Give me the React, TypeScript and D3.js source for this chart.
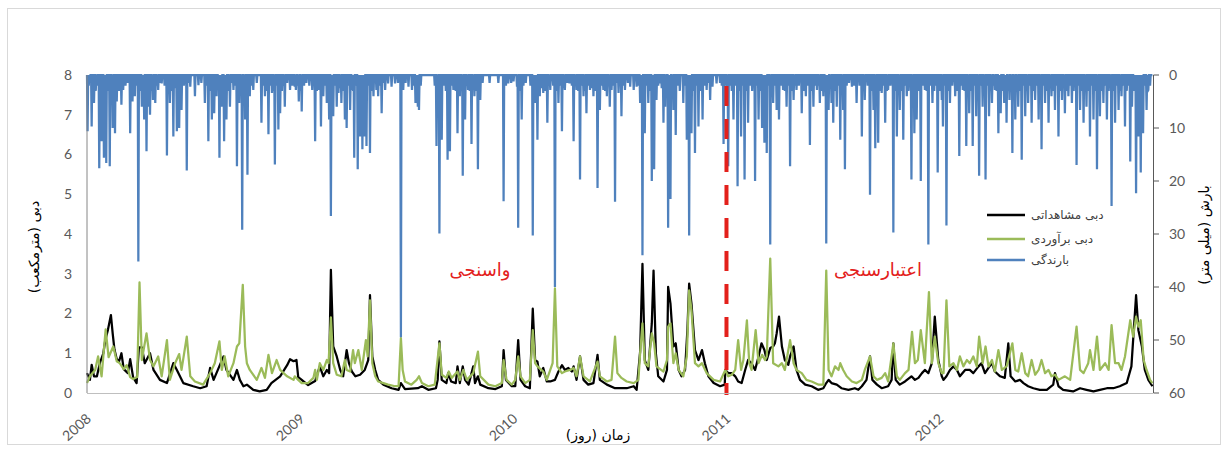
import React from 'react';
import * as d3 from 'd3';

// day offsets from 2008-01-01
const rainfall: [number, number][] = [
  [1, 10.6], [8, 9.7], [12, 5.3], [21, 17.6], [25, 12.5], [29, 15.6], [33, 16.6], [39, 17.2], [44, 10], [48, 11], [51, 5], [59, 5.6], [62, 2.8], [74, 11], [78, 5], [82, 4], [88, 35.2], [94, 6], [98, 8.4], [102, 14.4], [105, 6], [108, 7.5], [113, 4.7], [117, 5.3], [122, 2.8], [128, 1.6], [137, 15.2], [142, 5.3], [148, 11.6], [154, 10.6], [158, 10], [162, 6.6], [171, 18], [177, 2.2], [185, 4], [191, 1.9], [202, 5.3], [208, 12.5], [214, 8.4], [218, 7.2], [222, 4], [227, 15.6], [231, 6], [235, 12.5], [239, 8.4], [245, 6], [251, 2.8], [257, 17.2], [261, 5.3], [266, 29.2], [271, 8.4], [275, 18.8], [279, 4], [285, 2.8], [299, 9], [305, 4], [311, 11.2], [317, 3.4], [322, 16.9], [328, 10.3], [331, 7.2], [339, 6], [348, 2.8], [356, 2.2],
  [358, 2.8], [363, 5], [368, 6.9], [386, 2.8], [391, 12.5], [398, 2.8], [401, 9.7], [405, 4], [411, 5.3], [415, 8.4], [418, 26.6], [422, 7.8], [428, 6], [431, 3.4], [436, 5.3], [442, 8.4], [445, 10], [451, 6.6], [454, 2.8], [458, 15.6], [464, 17.8], [468, 11.6], [472, 14], [476, 11.6], [479, 13.4], [485, 14.7], [491, 4], [496, 2.8], [499, 4], [505, 7.2], [511, 2.8], [516, 1.6], [522, 2.2], [528, 1.6], [538, 49.5], [542, 2.8], [551, 2.2], [557, 2.8], [563, 5.3], [567, 6], [569, 6.6], [599, 13.4], [604, 29.9], [608, 12.2], [618, 16], [622, 14.4], [628, 2.8], [635, 11], [639, 4], [644, 19], [648, 8.4], [653, 2.8], [659, 13], [664, 4], [670, 17.8], [674, 4.7], [714, 23.8], [722, 1.6], [731, 1.2],
  [737, 2.2], [739, 28.8], [745, 8.4], [764, 30.3], [768, 5.3], [772, 12.2], [776, 4], [782, 3.4], [789, 9], [794, 2.8], [802, 40], [808, 5.3], [814, 10.6], [819, 2.8], [827, 1.6], [834, 12.5], [839, 2.8], [845, 19.7], [851, 4], [856, 7.2], [862, 2.8], [868, 4], [875, 21.3], [879, 6.6], [885, 2.8], [891, 4], [896, 6], [899, 2.8], [905, 23.9], [911, 3.4], [916, 7.8], [922, 2.8], [931, 2.2], [937, 2.8], [942, 2.2], [948, 5.3], [952, 34], [956, 11], [962, 5.3], [968, 20], [972, 17.8], [976, 4.7], [982, 1.6], [988, 9], [991, 6], [996, 28.8], [1000, 23.4], [1005, 6.6], [1009, 11.3], [1022, 5.3], [1028, 12.2], [1032, 30.3], [1036, 11], [1042, 14.7], [1048, 9.7], [1055, 8.4], [1062, 2.8], [1068, 4.7], [1072, 2.2], [1079, 1.6], [1091, 13],
  [1099, 17.2], [1108, 8.4], [1115, 21], [1121, 11.6], [1127, 19.7], [1133, 9], [1145, 20], [1151, 8.4], [1157, 10], [1161, 12.8], [1165, 14.7], [1171, 32], [1176, 5.3], [1182, 6.6], [1186, 8.4], [1193, 2.8], [1199, 6], [1205, 17.2], [1211, 4.7], [1216, 2.8], [1225, 7.2], [1232, 4], [1239, 13.2], [1245, 6], [1251, 2.8], [1256, 5.3], [1262, 4], [1267, 31.8], [1271, 6.6], [1276, 5.3], [1279, 9], [1285, 6], [1291, 12.2], [1296, 6.6], [1299, 17.8], [1311, 2.2], [1319, 5.3], [1328, 11.6], [1333, 4.7], [1342, 22.6], [1348, 6.6], [1351, 13.8], [1356, 12.8], [1362, 3.4], [1368, 9], [1373, 2.8], [1382, 29.7], [1388, 11.6], [1393, 6.6], [1399, 12.2], [1405, 4], [1413, 19.7], [1418, 11], [1422, 8.4], [1429, 20], [1436, 2.8], [1442, 32], [1449, 5.3], [1458, 18.4], [1465, 4.7],
  [1467, 9.7], [1473, 28.4], [1479, 5.3], [1488, 4], [1495, 15.3], [1501, 2.8], [1507, 13.4], [1512, 7.2], [1518, 13.4], [1524, 7.8], [1529, 19], [1535, 6], [1540, 19.7], [1546, 7.8], [1551, 5.3], [1556, 2.8], [1562, 11], [1566, 7.2], [1572, 5.3], [1576, 9], [1581, 4.7], [1586, 14.7], [1591, 8.4], [1596, 6], [1602, 16], [1608, 7.8], [1613, 5.3], [1619, 9], [1625, 4.7], [1631, 8.4], [1636, 14], [1642, 5.3], [1648, 9], [1653, 4], [1659, 6.6], [1665, 11.6], [1671, 4.7], [1676, 7.2], [1682, 4], [1688, 5.3], [1696, 17], [1702, 6.6], [1708, 9], [1713, 6], [1719, 11.6], [1725, 8.4], [1731, 17.8], [1736, 7.8], [1742, 5.3], [1748, 8.4], [1756, 24.7], [1762, 9], [1768, 6.6], [1773, 4], [1779, 9.7], [1788, 16.3], [1791, 6], [1798, 22.3], [1802, 11.6], [1806, 18.4], [1810, 11], [1816, 6.6], [1819, 2.8],
];

// the thin band of small daily totals along the top edge
const lightRain: [number, number][] = [
  [3, 2], [5, 1.5], [15, 3], [17, 2], [31, 4], [36, 3], [42, 2.5], [55, 3], [66, 2], [70, 1.5], [85, 2], [91, 3], [96, 2], [111, 3], [120, 2], [125, 1.5], [133, 2], [145, 3], [151, 2.5], [166, 2], [174, 1.5], [196, 1.5], [205, 2], [211, 3], [225, 2], [229, 3], [237, 2], [243, 3], [248, 1.5], [254, 2], [264, 3], [269, 2], [282, 2], [291, 1.5], [302, 2], [308, 3], [314, 2], [320, 3], [325, 2], [334, 3], [337, 2], [343, 1.5], [352, 2],
  [361, 2], [366, 3], [372, 2], [376, 1.5], [381, 2], [394, 3], [408, 2], [420, 3], [425, 2], [434, 2.5], [439, 3], [448, 2], [456, 3], [461, 2], [466, 3], [470, 2.5], [474, 3], [482, 2], [488, 3], [502, 2], [508, 1.5], [533, 1.5], [546, 1.5], [560, 2], [565, 3], [572, 2], [596, 2], [601, 3], [611, 2], [615, 3], [625, 2], [632, 3], [642, 2], [651, 2], [656, 3], [662, 2], [667, 3], [678, 1.5], [690, 1.5], [705, 1.5], [718, 2], [727, 1.5],
  [742, 3], [748, 2], [752, 1.5], [760, 2], [766, 3], [770, 2], [779, 2.5], [785, 3], [792, 2], [799, 2], [805, 3], [811, 2], [817, 2.5], [823, 1.5], [831, 2], [837, 2], [842, 3], [848, 2], [853, 3], [859, 2], [865, 2.5], [872, 3], [882, 2], [888, 3], [894, 2], [902, 2], [908, 1.5], [919, 2], [927, 1.5], [945, 2], [950, 3], [959, 2], [965, 3], [970, 2], [979, 2], [985, 2.5], [993, 3], [998, 2], [1003, 3], [1012, 2], [1016, 3], [1025, 2], [1030, 3], [1034, 2], [1039, 3], [1045, 2], [1051, 3], [1058, 2], [1065, 1.5], [1085, 1.5], [1088, 2], [1094, 2],
  [1097, 3], [1102, 2], [1105, 3], [1111, 2], [1118, 3], [1124, 2], [1130, 3], [1136, 2], [1140, 3], [1148, 2], [1154, 3], [1159, 2], [1163, 3], [1168, 2], [1173, 3], [1179, 2], [1189, 2], [1196, 3], [1202, 2], [1208, 3], [1213, 2], [1220, 2], [1228, 3], [1235, 2], [1242, 3], [1248, 2], [1254, 2], [1259, 3], [1265, 2], [1269, 3], [1274, 2], [1282, 3], [1288, 2], [1294, 3], [1302, 2], [1306, 1.5], [1315, 2], [1324, 2], [1331, 3], [1338, 2], [1345, 3], [1353, 2], [1359, 3], [1365, 2], [1371, 3], [1377, 2], [1385, 3], [1391, 2], [1396, 3], [1402, 2], [1408, 3], [1415, 2], [1425, 3], [1432, 2], [1439, 3], [1446, 2], [1452, 3], [1455, 2], [1461, 3],
  [1470, 2], [1476, 3], [1483, 2], [1491, 3], [1498, 2], [1504, 3], [1510, 2], [1515, 3], [1521, 2], [1527, 3], [1532, 2], [1538, 3], [1543, 2], [1549, 3], [1554, 2], [1559, 3], [1564, 2], [1569, 3], [1574, 2], [1579, 3], [1584, 2], [1589, 3], [1594, 2], [1599, 3], [1605, 2], [1611, 3], [1616, 2], [1622, 3], [1628, 2], [1634, 3], [1639, 2], [1645, 3], [1651, 2], [1656, 3], [1662, 2], [1668, 3], [1674, 2], [1679, 3], [1685, 2], [1691, 3], [1699, 2], [1705, 3], [1711, 2], [1716, 3], [1722, 2], [1728, 3], [1733, 2], [1739, 3], [1745, 2], [1751, 3], [1754, 2], [1759, 3], [1765, 2], [1771, 3], [1776, 2], [1782, 3], [1785, 2], [1794, 3], [1796, 2], [1800, 3], [1804, 2], [1808, 3], [1813, 2], [1818, 3], [1822, 2],
];

const observedFlow: [number, number][] = [
  [0, 0.5], [5, 0.33], [8, 0.71], [12, 0.42], [17, 0.42], [22, 0.75], [28, 1.0], [31, 1.3], [36, 1.6], [41, 1.96], [44, 1.5], [47, 1.1], [51, 0.85], [55, 0.8], [59, 1.0], [63, 0.6], [70, 0.5], [74, 0.85], [79, 0.4], [85, 0.25], [89, 1.15], [94, 1.15], [99, 0.75], [108, 1.0], [114, 0.58], [125, 0.33], [137, 0.25], [148, 0.75], [154, 0.58], [165, 0.25], [182, 0.17], [194, 0.12], [205, 0.17], [211, 0.63], [217, 0.33], [234, 0.92], [239, 0.58], [251, 0.33], [257, 0.58], [262, 0.33], [268, 0.17], [274, 0.21], [285, 0.08], [296, 0.04], [308, 0.08], [316, 0.25], [331, 0.42], [343, 0.7], [348, 0.85], [354, 0.8], [359, 0.83],
  [362, 0.4], [368, 0.33], [379, 0.2], [391, 0.3], [399, 0.67], [405, 0.42], [411, 0.58], [415, 0.5], [418, 3.1], [422, 1.17], [428, 0.92], [434, 0.58], [439, 0.42], [445, 1.08], [449, 0.75], [454, 0.54], [460, 0.42], [468, 0.46], [476, 0.58], [482, 0.83], [485, 2.46], [489, 0.92], [494, 0.58], [499, 0.33], [508, 0.21], [522, 0.12], [534, 0.08], [538, 0.25], [545, 0.1], [567, 0.12], [574, 0.17], [585, 0.08], [598, 0.12], [601, 0.33], [604, 1.3], [608, 0.33], [616, 0.25], [619, 0.5], [624, 0.29], [632, 0.25], [635, 0.67], [639, 0.25], [644, 0.67], [648, 0.33], [654, 0.21], [662, 0.67], [665, 0.25], [670, 0.42], [674, 0.21], [688, 0.12], [700, 0.1], [711, 0.17], [714, 1.08], [718, 0.33], [728, 0.17],
  [734, 0.17], [739, 1.33], [743, 0.33], [751, 0.17], [759, 0.12], [764, 2.12], [768, 0.83], [772, 0.79], [776, 0.42], [782, 0.63], [788, 0.29], [794, 0.29], [802, 0.33], [808, 0.54], [814, 0.7], [819, 0.58], [825, 0.63], [831, 0.54], [834, 0.67], [839, 0.33], [845, 0.92], [851, 0.33], [859, 0.21], [868, 0.25], [875, 0.96], [879, 0.33], [891, 0.21], [905, 0.12], [914, 0.12], [925, 0.12], [937, 0.17], [942, 0.08], [948, 1.04], [952, 3.25], [956, 0.83], [962, 0.58], [968, 1.75], [971, 3.08], [975, 1.0], [979, 0.42], [988, 0.29], [994, 0.58], [996, 2.67], [1000, 2.25], [1005, 1.17], [1009, 1.25], [1014, 0.58], [1019, 0.42], [1025, 0.58], [1029, 1.58], [1032, 2.75], [1036, 2.25], [1042, 1.08], [1048, 0.83], [1054, 1.08], [1059, 0.75], [1065, 0.42], [1074, 0.25], [1085, 0.17], [1093, 0.21],
  [1094, 0.58], [1099, 0.5], [1105, 0.5], [1111, 0.42], [1116, 0.29], [1122, 0.25], [1128, 0.58], [1133, 0.83], [1139, 0.75], [1145, 0.58], [1151, 0.92], [1156, 1.25], [1161, 1.08], [1165, 0.83], [1171, 1.13], [1176, 1.17], [1179, 1.25], [1182, 1.5], [1186, 1.92], [1191, 1.17], [1196, 0.83], [1202, 0.71], [1205, 0.92], [1211, 1.17], [1216, 0.58], [1222, 0.33], [1231, 0.21], [1242, 0.17], [1253, 0.08], [1262, 0.12], [1267, 0.25], [1271, 0.33], [1276, 0.25], [1285, 0.21], [1293, 0.12], [1305, 0.08], [1316, 0.12], [1322, 0.08], [1328, 0.17], [1336, 0.33], [1342, 0.92], [1346, 0.33], [1354, 0.21], [1362, 0.12], [1373, 0.17], [1379, 0.33], [1382, 1.25], [1386, 0.33], [1393, 0.21], [1402, 0.29], [1413, 0.42], [1419, 0.33], [1425, 0.38], [1431, 0.5], [1436, 0.58], [1442, 0.5], [1448, 0.75], [1453, 1.92], [1459, 0.83], [1465, 0.42],
  [1468, 0.33], [1473, 0.42], [1479, 0.58], [1485, 0.67], [1491, 0.58], [1496, 0.42], [1505, 0.58], [1513, 0.58], [1519, 0.5], [1528, 0.67], [1533, 0.75], [1539, 0.5], [1545, 0.63], [1551, 0.75], [1556, 0.54], [1565, 0.42], [1573, 0.38], [1579, 1.25], [1583, 0.42], [1591, 0.29], [1599, 0.33], [1605, 0.25], [1613, 0.17], [1622, 0.12], [1633, 0.08], [1645, 0.08], [1656, 0.21], [1659, 0.5], [1665, 0.17], [1673, 0.08], [1690, 0.04], [1702, 0.12], [1713, 0.08], [1725, 0.04], [1736, 0.08], [1748, 0.12], [1759, 0.12], [1770, 0.17], [1782, 0.25], [1790, 0.67], [1798, 2.46], [1802, 1.58], [1808, 1.17], [1813, 0.58], [1819, 0.33], [1826, 0.17],
];

const estimatedFlow: [number, number][] = [
  [0, 0.25], [5, 0.42], [14, 0.58], [19, 0.92], [25, 0.42], [32, 1.6], [37, 0.9], [45, 1.17], [51, 0.8], [56, 0.75], [63, 0.6], [68, 0.7], [74, 0.4], [79, 0.35], [86, 0.4], [90, 2.78], [94, 0.83], [102, 1.5], [108, 0.83], [114, 0.67], [122, 0.92], [128, 0.42], [137, 1.33], [142, 0.33], [151, 0.75], [158, 0.98], [162, 0.58], [171, 1.42], [177, 0.42], [185, 0.29], [199, 0.21], [211, 0.5], [219, 0.75], [227, 1.3], [231, 0.58], [236, 0.92], [242, 0.42], [251, 0.75], [257, 1.17], [261, 1.25], [267, 2.72], [271, 1.17], [274, 0.75], [279, 0.58], [291, 0.33], [299, 0.63], [305, 0.38], [311, 0.96], [317, 0.5], [325, 0.83], [331, 0.58], [343, 0.42], [354, 0.33],
  [356, 0.42], [362, 0.33], [368, 0.25], [379, 0.25], [388, 0.38], [391, 0.58], [394, 0.33], [399, 0.75], [405, 0.58], [411, 0.83], [414, 0.75], [418, 1.9], [422, 0.75], [428, 0.46], [436, 0.42], [442, 0.83], [445, 0.58], [451, 0.54], [456, 1.08], [459, 0.75], [465, 1.08], [471, 0.58], [478, 1.33], [481, 0.92], [485, 2.33], [489, 0.75], [494, 0.42], [499, 0.29], [508, 0.25], [516, 0.21], [528, 0.17], [534, 0.17], [538, 1.38], [541, 0.58], [545, 0.29], [556, 0.21], [565, 0.33], [569, 0.42], [574, 0.25], [585, 0.17], [596, 0.21], [604, 1.25], [608, 0.46], [616, 0.38], [620, 0.54], [625, 0.38], [635, 0.54], [639, 0.33], [645, 0.58], [651, 0.33], [662, 0.5], [670, 1.04], [674, 0.42], [688, 0.21], [700, 0.17], [711, 0.25], [714, 0.83], [719, 0.33], [728, 0.21],
  [734, 0.33], [739, 0.92], [743, 0.42], [751, 0.25], [759, 0.33], [764, 1.58], [768, 0.75], [772, 0.67], [782, 0.54], [788, 0.33], [794, 0.58], [798, 0.75], [802, 2.63], [806, 0.67], [814, 0.5], [819, 0.54], [828, 0.58], [834, 0.63], [839, 0.42], [845, 0.92], [851, 0.42], [862, 0.29], [875, 0.79], [879, 0.42], [891, 0.29], [899, 0.33], [905, 1.42], [909, 0.5], [916, 0.38], [925, 0.29], [937, 0.25], [945, 0.33], [948, 1.0], [952, 1.75], [956, 0.75], [962, 0.67], [968, 1.5], [972, 1.25], [976, 0.67], [988, 0.54], [994, 0.83], [996, 1.67], [1000, 1.75], [1005, 0.75], [1009, 1.0], [1014, 0.58], [1022, 0.42], [1028, 0.92], [1032, 2.58], [1036, 2.08], [1042, 0.75], [1048, 0.67], [1054, 0.75], [1062, 0.5], [1074, 0.33], [1085, 0.29], [1094, 0.58],
  [1099, 0.42], [1105, 0.46], [1111, 0.58], [1116, 1.33], [1121, 0.58], [1125, 0.83], [1131, 1.83], [1135, 0.75], [1139, 0.58], [1146, 1.58], [1151, 0.75], [1157, 0.96], [1162, 0.83], [1165, 0.92], [1171, 3.38], [1176, 0.75], [1185, 0.67], [1191, 0.75], [1196, 0.58], [1205, 1.33], [1211, 0.75], [1216, 0.58], [1225, 0.5], [1233, 0.33], [1242, 0.29], [1254, 0.21], [1262, 0.21], [1267, 3.08], [1271, 0.58], [1276, 0.42], [1282, 0.67], [1288, 0.58], [1291, 0.75], [1296, 0.58], [1302, 0.42], [1311, 0.29], [1319, 0.25], [1328, 0.33], [1333, 0.58], [1342, 0.92], [1348, 0.42], [1354, 0.33], [1362, 0.38], [1368, 0.5], [1373, 0.29], [1382, 1.25], [1388, 0.42], [1393, 0.33], [1402, 0.5], [1408, 0.58], [1414, 1.54], [1419, 0.75], [1424, 0.83], [1429, 1.58], [1436, 0.75], [1443, 2.54], [1448, 0.75], [1453, 1.42], [1459, 0.75], [1465, 0.5],
  [1468, 0.5], [1473, 2.33], [1478, 0.67], [1485, 0.75], [1491, 0.58], [1496, 0.92], [1502, 0.67], [1508, 0.83], [1513, 0.75], [1519, 0.92], [1525, 0.67], [1529, 1.42], [1535, 0.75], [1540, 1.17], [1545, 0.67], [1551, 0.83], [1556, 0.54], [1562, 1.08], [1568, 0.58], [1576, 0.67], [1586, 1.25], [1591, 0.58], [1596, 0.54], [1602, 1.0], [1608, 0.5], [1613, 0.42], [1619, 0.83], [1625, 0.46], [1631, 0.58], [1636, 0.83], [1642, 0.5], [1648, 0.58], [1653, 0.42], [1659, 0.46], [1665, 0.33], [1676, 0.42], [1685, 0.33], [1696, 1.67], [1702, 0.58], [1708, 0.5], [1716, 0.75], [1719, 1.08], [1725, 0.58], [1731, 1.42], [1736, 0.58], [1745, 0.75], [1751, 0.58], [1756, 1.71], [1762, 0.75], [1768, 0.75], [1773, 0.58], [1779, 0.92], [1788, 1.83], [1793, 1.42], [1798, 1.92], [1802, 1.67], [1806, 1.83], [1811, 0.83], [1816, 0.58], [1822, 0.33], [1826, 0.25],
];

const flowTicks = [0, 1, 2, 3, 4, 5, 6, 7, 8];
const rainTicks = [0, 10, 20, 30, 40, 50, 60];
const yearTicks = [2008, 2009, 2010, 2011, 2012];
const legendItems = [
  { label: 'دبی مشاهداتی', color: '#000000' },
  { label: 'دبی برآوردی', color: '#9bbb59' },
  { label: 'بارندگی', color: '#4f81bd' },
];

const W = 1229;
const H = 453;
const plot = { left: 87, right: 1153, top: 75, bottom: 393 };
const start = new Date(2008, 0, 1);
const splitDate = new Date(2011, 0, 1);
const dayToDate = (d: number) => d3.timeDay.offset(start, d);

const tickFont = 'Lato, "Open Sans", sans-serif';
const faFont = '"DejaVu Sans", sans-serif';

export default function App() {
  const x = d3.scaleTime().domain([start, new Date(2013, 0, 1)]).range([plot.left, plot.right]);
  const yFlow = d3.scaleLinear().domain([0, 8]).range([plot.bottom, plot.top]);
  const yRain = d3.scaleLinear().domain([0, 60]).range([plot.top, plot.bottom]);

  // one value per day, 0 where no rain was read
  const rainByDay = new Map<number, number>();
  lightRain.forEach(([d, v]) => rainByDay.set(d, v));
  rainfall.forEach(([d, v]) => rainByDay.set(d, v));
  const nDays = d3.timeDay.count(start, new Date(2012, 11, 31)) + 1;
  const rainDaily = d3.range(nDays).map((d) => [d, rainByDay.get(d) ?? 0] as [number, number]);

  const flowLine = d3
    .line<[number, number]>()
    .x((d) => x(dayToDate(d[0])))
    .y((d) => yFlow(d[1]));
  const rainLine = d3
    .line<[number, number]>()
    .x((d) => x(dayToDate(d[0])))
    .y((d) => yRain(d[1]));

  const xSplit = x(splitDate);

  return (
    <svg width={W} height={H} style={{ position: 'absolute', left: 0, top: 0, background: '#fff' }}>
      <rect x={7.5} y={8.5} width={1213} height={436} fill="#fff" stroke="#d9d9d9" />

      {/* flow lines */}
      <path d={flowLine(observedFlow) ?? ''} fill="none" stroke="#000" strokeWidth={2.25} strokeLinejoin="round" />
      <path d={flowLine(estimatedFlow) ?? ''} fill="none" stroke="#9bbb59" strokeWidth={2.25} strokeLinejoin="round" />

      {/* rainfall hanging from top */}
      <path d={rainLine(rainDaily) ?? ''} fill="none" stroke="#4f81bd" strokeWidth={2.25} strokeLinejoin="miter" />

      {/* calibration / validation split */}
      <line x1={xSplit} x2={xSplit} y1={86} y2={plot.bottom + 2} stroke="#e3201b" strokeWidth={4} strokeDasharray="20 13" />

      {/* axes */}
      <line x1={plot.left} x2={plot.left} y1={plot.top} y2={plot.bottom} stroke="#868686" />
      <line x1={plot.left} x2={plot.right} y1={plot.bottom + 0.5} y2={plot.bottom + 0.5} stroke="#bfbfbf" />
      <line x1={plot.right + 0.5} x2={plot.right + 0.5} y1={plot.top} y2={plot.bottom} stroke="#595959" />

      {flowTicks.map((t) => (
        <text key={t} x={72} y={yFlow(t)} dy="0.35em" textAnchor="end" fontFamily={tickFont} fontSize={14} fill="#595959">
          {t}
        </text>
      ))}
      {rainTicks.map((t) => (
        <g key={t}>
          <line x1={plot.right + 0.5} x2={plot.right + 6} y1={yRain(t)} y2={yRain(t)} stroke="#595959" />
          <text x={1169} y={yRain(t)} dy="0.35em" fontFamily={tickFont} fontSize={14} fill="#595959">
            {t}
          </text>
        </g>
      ))}
      {yearTicks.map((yr) => {
        const px = x(new Date(yr, 0, 1));
        return (
          <text
            key={yr}
            transform={`translate(${px + 5},${420}) rotate(-42)`}
            textAnchor="end"
            fontFamily={tickFont}
            fontSize={14}
            fill="#595959"
          >
            {yr}
          </text>
        );
      })}

      {/* axis titles */}
      <text transform="translate(39,247) rotate(-90)" textAnchor="middle" fontFamily={faFont} fontSize={14} fill="#000">
        دبی (مترمکعب)
      </text>
      <text transform="translate(1209,235) rotate(-90)" textAnchor="middle" fontFamily={faFont} fontSize={14} fill="#000">
        بارش (میلی متر)
      </text>
      <text x={598} y={440} textAnchor="middle" fontFamily={faFont} fontSize={14} fill="#000">
        زمان (روز)
      </text>

      {/* period labels */}
      <text x={480} y={276} textAnchor="middle" fontFamily={faFont} fontSize={18} fill="#e3201b">
        واسنجی
      </text>
      <text x={878} y={276} textAnchor="middle" fontFamily={faFont} fontSize={18} fill="#e3201b">
        اعتبارسنجی
      </text>

      {/* legend */}
      {legendItems.map((item, i) => {
        const ly = [215, 239, 260][i];
        return (
          <g key={item.label}>
            <line x1={987} x2={1025} y1={ly} y2={ly} stroke={item.color} strokeWidth={2.5} />
            <text x={1031} y={ly} dy="0.35em" fontFamily={faFont} fontSize={12} fill="#404040">
              {item.label}
            </text>
          </g>
        );
      })}
    </svg>
  );
}
